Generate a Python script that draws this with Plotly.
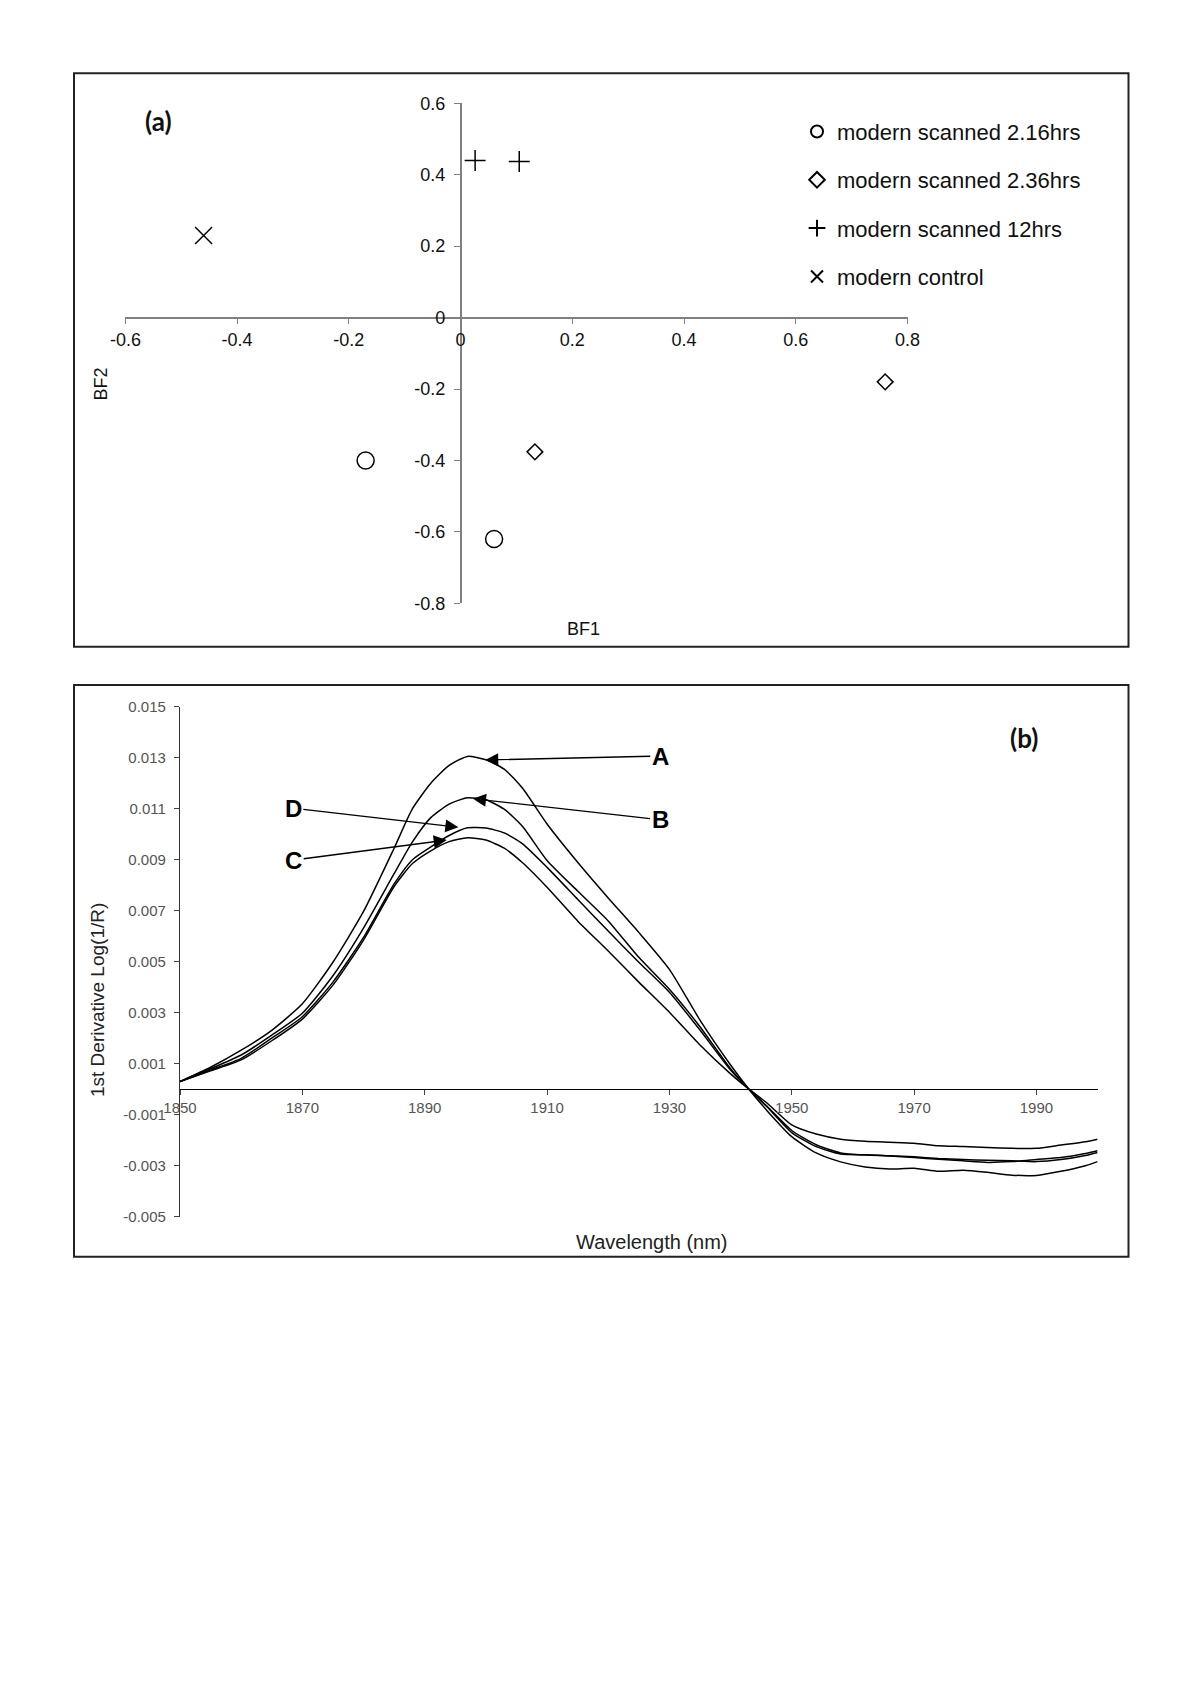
import plotly.graph_objects as go

# page is 1200x1698; the html body adds an 8px margin, so the figure is drawn
# 8px smaller and all page-pixel positions below are shifted by that offset.
PAGE_W, PAGE_H = 1200, 1698
OFF = 8
W, H = PAGE_W - OFF, PAGE_H - OFF

# ---------------- Panel (a) data ----------------
series_names = ["modern scanned 2.16hrs", "modern scanned 2.36hrs",
                "modern scanned 12hrs", "modern control"]
bf1_216 = [-0.17, 0.06]
bf2_216 = [-0.40, -0.62]
bf1_236 = [0.133, 0.76]
bf2_236 = [-0.376, -0.18]
bf1_12 = [0.026, 0.105]
bf2_12 = [0.44, 0.437]
bf1_ctrl = [-0.46]
bf2_ctrl = [0.23]

a_xtickvals = [-0.6, -0.4, -0.2, 0, 0.2, 0.4, 0.6, 0.8]
a_xticktext = ["-0.6", "-0.4", "-0.2", "0", "0.2", "0.4", "0.6", "0.8"]
a_ytickvals = [-0.8, -0.6, -0.4, -0.2, 0, 0.2, 0.4, 0.6]
a_yticktext = ["-0.8", "-0.6", "-0.4", "-0.2", "0", "0.2", "0.4", "0.6"]

# ---------------- Panel (b) data ----------------
wavelength = [1850, 1855, 1860, 1865, 1870, 1875, 1880, 1885, 1888, 1891, 1894, 1897,
              1900, 1903, 1906, 1910, 1915, 1920, 1925, 1930, 1935, 1940, 1943, 1946,
              1950, 1954, 1958, 1962, 1966, 1970, 1974, 1978, 1982, 1986, 1990, 1994,
              1998, 2000]
curve_A = [0.00030, 0.00086, 0.00153, 0.00231, 0.00335, 0.00498, 0.00697, 0.00945, 0.01100,
           0.01200, 0.01270, 0.01305, 0.01292, 0.01255, 0.01180, 0.01040, 0.00890, 0.00750,
           0.00615, 0.00470, 0.00271, 0.00095, 0.00000, -0.00085, -0.00186, -0.00250,
           -0.00285, -0.00305, -0.00313, -0.00310, -0.00322, -0.00318, -0.00326, -0.00337,
           -0.00338, -0.00322, -0.00300, -0.00284]
curve_B = [0.00030, 0.00080, 0.00134, 0.00212, 0.00298, 0.00445, 0.00632, 0.00845, 0.00970,
           0.01065, 0.01118, 0.01143, 0.01135, 0.01098, 0.01030, 0.00897, 0.00777, 0.00660,
           0.00517, 0.00392, 0.00245, 0.00080, 0.00000, -0.00070, -0.00170, -0.00225,
           -0.00254, -0.00257, -0.00262, -0.00268, -0.00275, -0.00281, -0.00287, -0.00284,
           -0.00276, -0.00268, -0.00252, -0.00241]
curve_D = [0.00030, 0.00075, 0.00121, 0.00200, 0.00284, 0.00420, 0.00595, 0.00805, 0.00900,
           0.00950, 0.00995, 0.01025, 0.01024, 0.01005, 0.00962, 0.00870, 0.00745, 0.00620,
           0.00498, 0.00380, 0.00232, 0.00075, 0.00000, -0.00068, -0.00162, -0.00218,
           -0.00250, -0.00258, -0.00261, -0.00265, -0.00272, -0.00276, -0.00279, -0.00281,
           -0.00284, -0.00276, -0.00260, -0.00248]
curve_C = [0.00030, 0.00072, 0.00115, 0.00190, 0.00275, 0.00408, 0.00585, 0.00795, 0.00885,
           0.00935, 0.00971, 0.00986, 0.00977, 0.00945, 0.00888, 0.00792, 0.00660, 0.00542,
           0.00420, 0.00302, 0.00173, 0.00060, 0.00000, -0.00055, -0.00140, -0.00176,
           -0.00196, -0.00204, -0.00208, -0.00212, -0.00222, -0.00225, -0.00229, -0.00232,
           -0.00232, -0.00219, -0.00206, -0.00196]

b_xtickvals = [1850, 1870, 1890, 1910, 1930, 1950, 1970, 1990]
b_xticktext = ["1850", "1870", "1890", "1910", "1930", "1950", "1970", "1990"]
b_ytickvals = [-0.005, -0.003, -0.001, 0.001, 0.003, 0.005, 0.007, 0.009, 0.011, 0.013, 0.015]
b_yticktext = ["-0.005", "-0.003", "-0.001", "0.001", "0.003", "0.005", "0.007", "0.009",
               "0.011", "0.013", "0.015"]

# curve labels and the points their arrows touch
label_names = ["A", "B", "D", "C"]
label_tip_x = [1899.9, 1897.9, 1895.5, 1893.6]
label_tip_y = [0.01291, 0.01139, 0.01027, 0.00977]


def fx(px):
    return (px - OFF) / W


def fy(py):
    return 1 - (py - OFF) / H


# ---------------- layout geometry (page pixels) ----------------
a_xdom = [fx(125.4), fx(907.5)]
a_ydom = [fy(603.3), fy(103.3)]
a_xrange = [-0.6, 0.8]
a_yrange = [-0.8, 0.6]
a_xpos = a_ydom[0] + (0 - a_yrange[0]) / (a_yrange[1] - a_yrange[0]) * (a_ydom[1] - a_ydom[0])
a_ypos = a_xdom[0] + (0 - a_xrange[0]) / (a_xrange[1] - a_xrange[0]) * (a_xdom[1] - a_xdom[0])

b_xdom = [fx(180), fx(1097.6)]
b_ydom = [fy(1216.7), fy(706.7)]
b_xrange = [1850, 2000]
b_yrange = [-0.005, 0.015]
b_xpos = b_ydom[0] + (0 - b_yrange[0]) / (b_yrange[1] - b_yrange[0]) * (b_ydom[1] - b_ydom[0])

FONT = "Liberation Sans, Arial, sans-serif"

fig = go.Figure()

marker_specs = [
    dict(symbol="circle-open", size=17, color="black", line=dict(color="black", width=1.5)),
    dict(symbol="diamond-open", size=12, color="black", line=dict(color="black", width=1.5)),
    dict(symbol="cross-thin-open", size=15, color="black", line=dict(color="black", width=1.5)),
    dict(symbol="x-thin-open", size=17, color="black", line=dict(color="black", width=1.5)),
]
xs = [bf1_216, bf1_236, bf1_12, bf1_ctrl]
ys = [bf2_216, bf2_236, bf2_12, bf2_ctrl]
legend_keys = ["legend", "legend2", "legend3", "legend4"]
legend_py = [131.7, 180.0, 228.3, 276.7]

for i in range(4):
    fig.add_trace(go.Scatter(
        x=xs[i], y=ys[i], mode="markers", name=series_names[i],
        marker=marker_specs[i], xaxis="x", yaxis="y", legend=legend_keys[i],
        showlegend=True))

for name, vals in [("A", curve_A), ("B", curve_B), ("C", curve_C), ("D", curve_D)]:
    fig.add_trace(go.Scatter(
        x=wavelength, y=vals, mode="lines", name=name, showlegend=False,
        line=dict(color="black", width=1.5, shape="spline", smoothing=0.6),
        xaxis="x2", yaxis="y2"))

layout = dict(
    width=W, height=H,
    margin=dict(l=0, r=0, t=0, b=0, autoexpand=False),
    paper_bgcolor="white", plot_bgcolor="white",
    font=dict(family=FONT, color="#111", size=16),
    xaxis=dict(domain=a_xdom, range=a_xrange, anchor="free", position=a_xpos,
               showgrid=False, zeroline=False, showline=True, linecolor="#808080",
               linewidth=1.5, ticks="outside", ticklen=6, tickcolor="#808080",
               tickvals=a_xtickvals, ticktext=a_xticktext,
               tickfont=dict(size=18, color="#111")),
    yaxis=dict(domain=a_ydom, range=a_yrange, anchor="free", position=a_ypos,
               showgrid=False, zeroline=False, showline=True, linecolor="#808080",
               linewidth=1.5, ticks="outside", ticklen=6, tickcolor="#808080",
               tickvals=a_ytickvals, ticktext=a_yticktext, ticklabelstandoff=5,
               tickfont=dict(size=18, color="#111")),
    xaxis2=dict(domain=b_xdom, range=b_xrange, anchor="free", position=b_xpos,
                showgrid=False, zeroline=False, showline=True, linecolor="black",
                linewidth=1.3, ticks="outside", ticklen=5, tickcolor="#444",
                tickvals=b_xtickvals, ticktext=b_xticktext,
                tickfont=dict(size=15, color="#555")),
    yaxis2=dict(domain=b_ydom, range=b_yrange, anchor="x2", side="left",
                showgrid=False, zeroline=False, showline=True, linecolor="#333",
                linewidth=1.3, ticks="outside", ticklen=5, tickcolor="#444",
                tickvals=b_ytickvals, ticktext=b_yticktext, ticklabelstandoff=5,
                tickfont=dict(size=15, color="#555")),
    shapes=[
        dict(type="rect", xref="paper", yref="paper", x0=fx(74), x1=fx(1128.5),
             y0=fy(646.7), y1=fy(73.3), line=dict(color="#222", width=2)),
        dict(type="rect", xref="paper", yref="paper", x0=fx(74), x1=fx(1128.5),
             y0=fy(1256.7), y1=fy(685), line=dict(color="#222", width=2)),
    ],
)

for i, key in enumerate(legend_keys):
    layout[key] = dict(x=fx(797), xanchor="left", y=fy(legend_py[i]), yanchor="middle",
                       bgcolor="rgba(0,0,0,0)", borderwidth=0, itemsizing="constant",
                       font=dict(size=22, color="#111", family=FONT))


def paper_text(text, px, py, size, angle=0, color="#111", family=FONT):
    return dict(text=text, x=fx(px), y=fy(py), xref="paper", yref="paper",
                xanchor="center", yanchor="middle", textangle=angle, showarrow=False,
                font=dict(size=size, color=color, family=family))


annotations = [
    paper_text("<b>(a)</b>", 158.6, 120.8, 26, family="Lato, Open Sans, sans-serif"),
    paper_text("<b>(b)</b>", 1023.6, 738, 26, family="Lato, Open Sans, sans-serif"),
    paper_text("BF2", 101.4, 384, 18, angle=-90),
    paper_text("BF1", 583.4, 629, 18),
    paper_text("1st Derivative Log(1/R)", 98, 1000, 19, angle=-90, color="#222"),
    paper_text("Wavelength (nm)", 652, 1242, 20, color="#222"),
]

label_ax = [175, 187, -165, -153]
label_ay = [-4, 21, -19, 20]
for i, nm in enumerate(label_names):
    annotations.append(dict(
        text="<b>" + nm + "</b>", x=label_tip_x[i], y=label_tip_y[i], xref="x2", yref="y2",
        ax=label_ax[i], ay=label_ay[i], showarrow=True, arrowhead=2, arrowsize=2,
        arrowwidth=1.3, arrowcolor="black", standoff=0,
        font=dict(size=24, color="black", family=FONT)))

layout["annotations"] = annotations
fig.update_layout(**layout)

fig.write_html("out.html")
